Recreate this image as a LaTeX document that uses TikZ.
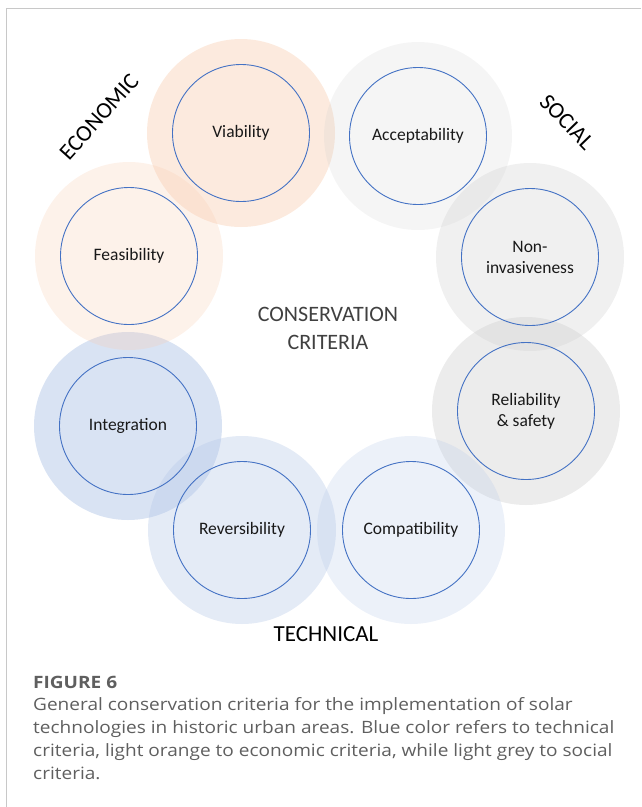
\documentclass[tikz,border=0pt]{standalone}
\usepackage{fontspec}
\setmainfont{Carlito}
\newfontfamily\captionfont[FakeStretch=1.12]{Open Sans}
\usetikzlibrary{positioning}

\definecolor{peach}{RGB}{248,203,173}
\definecolor{skyblue}{RGB}{180,199,231}
\definecolor{ashgrey}{RGB}{205,205,205}
\definecolor{ringblue}{RGB}{68,114,196}
\definecolor{framegrey}{RGB}{200,200,200}
\definecolor{captext}{RGB}{95,95,95}

\begin{document}
\begin{tikzpicture}[x=1pt, y=-1pt,
    halo/.style args={#1/#2}{circle, minimum size=188pt, inner sep=0pt,
      fill=#1, fill opacity=#2},
    crit/.style={circle, draw=ringblue, line width=0.9pt, minimum size=137pt,
      inner sep=0pt, align=center, text=black!90,
      font=\fontsize{17.5}{21}\selectfont},
    group/.style={text=black, font=\fontsize{23}{26}\selectfont}]

    \useasboundingbox (0, 0) rectangle (641, 807);
    \draw [framegrey, line width=1pt] (641, 8) -- (6, 8) -- (6, 807);

    % coloured halos
    \node [halo=peach/0.4]    (via-halo)    at (241, 133) {};
    \node [halo=ashgrey/0.2]  (acc-halo)    at (418, 136) {};
    \node [halo=ashgrey/0.3]  (noninv-halo) at (530, 257) {};
    \node [halo=ashgrey/0.38] (rel-halo)    at (526, 411) {};
    \node [halo=skyblue/0.25] (comp-halo)   at (411, 530) {};
    \node [halo=skyblue/0.36] (rev-halo)    at (242, 530) {};
    \node [halo=skyblue/0.5]  (integ-halo)  at (128, 426) {};
    \node [halo=peach/0.25]   (feas-halo)   at (129, 256) {};

    % criteria
    \node [crit] (via)    at (via-halo)    {Viability};
    \node [crit] (acc)    at (acc-halo)    {Acceptability};
    \node [crit] (noninv) at (noninv-halo) {Non-\\invasiveness};
    \node [crit] (rel)    at (rel-halo)    {Reliability\\\& safety};
    \node [crit] (comp)   at (comp-halo)   {Compatibility};
    \node [crit] (rev)    at (rev-halo)    {Reversibility};
    \node [crit] (integ)  at (integ-halo)  {Integration};
    \node [crit] (feas)   at (feas-halo)   {Feasibility};

    \node [align=center, text=black!75, font=\fontsize{22}{28}\selectfont]
      (title) at (328, 328) {CONSERVATION\\CRITERIA};

    \node [group, rotate=48]  (economic)  at (99, 117)  {ECONOMIC};
    \node [group, rotate=-46] (social)    at (567, 122) {SOCIAL};
    \node [group]             (technical) at (326, 634) {TECHNICAL};

    % caption
    \node [anchor=west, inner sep=0pt, text=captext,
      font=\captionfont\bfseries\fontsize{17}{20}\selectfont]
      (figlabel) at (33, 682) {FIGURE 6};
    \node [anchor=north west, inner sep=0pt, align=left, text=captext,
      font=\captionfont\fontsize{17}{23}\selectfont]
      (caption) at (33, 697) {General conservation criteria for the implementation of solar\\
      technologies in historic urban areas. Blue color refers to technical\\
      criteria, light orange to economic criteria, while light grey to social\\
      criteria.};

\end{tikzpicture}
\end{document}
